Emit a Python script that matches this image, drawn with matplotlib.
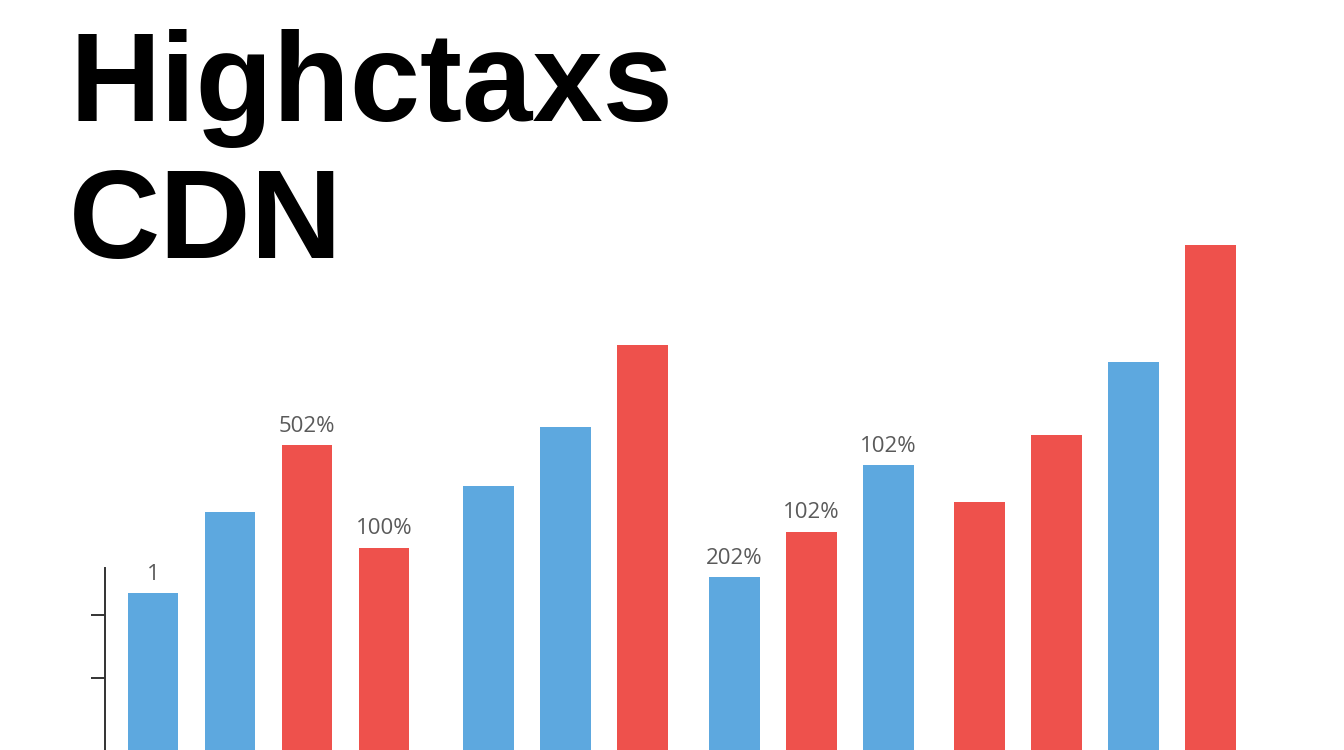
import matplotlib.pyplot as plt

# bar values (arbitrary units)
values = [157, 238, 305, 202, 264, 323, 405, 173, 218, 285, 248, 315, 388, 505]
colors_key = ['b', 'b', 'r', 'r', 'b', 'b', 'r', 'b', 'r', 'b', 'r', 'r', 'b', 'r']
groups = [0, 0, 0, 0, 1, 1, 1, 2, 2, 2, 3, 3, 3, 3]
labels = ['1', '', '502%', '100%', '', '', '', '202%', '102%', '102%', '', '', '', '']
title = 'Highctaxs\nCDN'

BLUE = '#5DA8DF'
RED = '#EE514C'
group_gap = [0.0, 0.36, 0.55, 0.73]

W, H = 1344, 750
fig = plt.figure(figsize=(W / 100, H / 100), dpi=100)
fig.patch.set_facecolor('white')
ax = fig.add_axes([105 / W, 0, 1 - 105 / W, 1])

x = [i + group_gap[g] for i, g in enumerate(groups)]
col = [BLUE if c == 'b' else RED for c in colors_key]
ax.bar(x, values, width=0.66, color=col)
for xi, v, lab in zip(x, values, labels):
    if lab:
        ax.text(xi, v + 19, lab, ha='center', va='center', fontsize=16,
                color='#5a5a5a', family='Open Sans')

ax.set_xlim((105 - 153) / 77, (W - 153) / 77)
ax.set_ylim(0, H)
for s in ['top', 'right', 'bottom']:
    ax.spines[s].set_visible(False)
ax.spines['left'].set_bounds(0, 182)
ax.spines['left'].set_linewidth(1.4)
ax.spines['left'].set_color('#333333')
ax.set_yticks([72, 135])
ax.set_yticklabels([])
ax.tick_params(axis='y', length=10, width=1.4, color='#333333')
ax.set_xticks([])

fig.text(69 / W, 1 - 29 / H, title, ha='left', va='top', fontsize=91,
         fontweight='bold', family='Liberation Sans', color='black', linespacing=1.2)

fig.savefig('out.png', dpi=100)
